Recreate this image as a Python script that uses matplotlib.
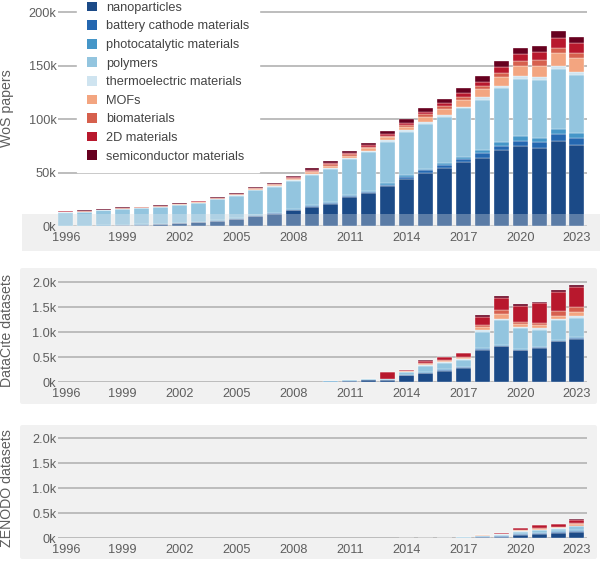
import matplotlib
matplotlib.use('Agg')
import matplotlib.pyplot as plt
import numpy as np
from matplotlib.patches import Rectangle, FancyBboxPatch, Patch
from matplotlib.ticker import FuncFormatter

plt.rcParams['font.family'] = ['Liberation Sans', 'DejaVu Sans']

years = list(range(1996, 2024))
categories = ['nanoparticles', 'battery cathode materials', 'photocatalytic materials',
              'polymers', 'thermoelectric materials', 'MOFs', 'biomaterials',
              '2D materials', 'semiconductor materials']
colors = ['#1b4a87', '#2467b0', '#4596c8', '#93c5df', '#cfe4f0',
          '#f3a580', '#d6604d', '#b8182d', '#67001f']

# ---- WoS papers (thousands) ----
wos_nano = [0.3, 0.5, 0.8, 1.2, 1.6, 2.1, 2.8, 3.8, 5.1, 7.0, 9.5, 12.0, 15.0, 18.2,
            21.4, 27.5, 30.8, 37.5, 44.0, 50.0, 55.0, 60.0, 64.2, 71.4, 75.4, 73.6, 80.0, 76.0]
wos_battery = [0.05, 0.05, 0.05, 0.1, 0.1, 0.1, 0.15, 0.15, 0.2, 0.2, 0.3, 0.4, 0.6, 0.7,
               0.8, 0.9, 1.0, 1.3, 2.0, 2.5, 2.2, 2.8, 4.7, 4.0, 4.7, 5.0, 5.9, 6.2]
wos_photo = [0.1, 0.1, 0.1, 0.15, 0.2, 0.2, 0.25, 0.3, 0.3, 0.4, 0.5, 0.6, 0.8, 0.9,
             1.0, 1.1, 1.3, 1.5, 1.6, 1.6, 1.9, 2.5, 2.5, 3.7, 4.4, 4.4, 5.0, 5.3]
wos_poly = [12.4, 12.8, 14.0, 14.9, 15.1, 15.8, 17.0, 17.7, 19.8, 21.2, 23.5, 24.2, 26.4, 28.2,
            30.8, 33.5, 36.2, 38.8, 40.5, 42.0, 43.5, 45.0, 46.7, 49.8, 53.0, 53.8, 56.0, 53.8]
wos_thermo = [0.5, 0.4, 0.3, 0.3, 0.3, 0.3, 0.3, 0.4, 0.4, 0.5, 0.5, 0.6, 0.7, 0.8,
              0.9, 1.0, 1.1, 1.2, 1.6, 1.6, 1.6, 1.6, 2.5, 2.2, 2.5, 3.1, 3.1, 3.1]
wos_mofs = [0.1, 0.1, 0.1, 0.1, 0.1, 0.1, 0.2, 0.2, 0.3, 0.4, 0.5, 0.8, 1.1, 1.6,
            1.8, 2.1, 2.4, 2.8, 3.1, 4.7, 5.6, 6.2, 7.5, 8.4, 9.6, 10.3, 12.1, 13.0]
wos_bio = [0.5, 0.5, 0.4, 0.5, 0.5, 0.5, 0.6, 0.7, 0.8, 0.9, 0.9, 1.0, 1.1, 1.3,
           1.3, 1.4, 1.5, 1.8, 2.0, 2.2, 2.8, 3.1, 3.1, 3.4, 4.4, 4.7, 4.7, 4.7]
wos_2d = [0.2, 0.2, 0.1, 0.1, 0.1, 0.1, 0.1, 0.1, 0.1, 0.1, 0.1, 0.2, 0.3, 0.9,
          1.0, 1.2, 1.3, 1.8, 2.2, 2.2, 2.5, 3.7, 4.0, 6.2, 6.8, 7.5, 8.7, 8.7]
wos_semi = [0.6, 0.5, 0.4, 0.5, 0.5, 0.6, 0.6, 0.7, 0.8, 0.9, 0.9, 1.2, 1.4, 1.7,
            1.8, 1.9, 2.0, 2.6, 3.0, 3.4, 4.0, 4.0, 5.3, 5.6, 5.6, 6.2, 6.8, 6.2]

# ---- DataCite datasets (counts), 1996-2009 are zero ----
z14 = [0] * 14
dc_nano = z14 + [15, 35, 40, 50, 140, 190, 230, 290, 650, 720, 640, 690, 820, 870]
dc_battery = z14 + [0, 0, 0, 3, 5, 5, 8, 10, 15, 15, 15, 10, 15, 15]
dc_photo = z14 + [2, 0, 0, 0, 8, 8, 20, 10, 15, 15, 15, 10, 15, 15]
dc_poly = z14 + [10, 5, 30, 13, 50, 120, 130, 140, 320, 490, 410, 330, 390, 380]
dc_thermo = z14 + [0, 0, 3, 0, 8, 20, 20, 20, 50, 30, 30, 50, 30, 50]
dc_mofs = z14 + [0, 0, 0, 0, 8, 27, 20, 20, 50, 90, 50, 50, 60, 80]
dc_bio = z14 + [0, 0, 0, 0, 5, 20, 20, 20, 40, 80, 50, 50, 90, 90]
dc_2d = z14 + [0, 0, 0, 140, 28, 45, 55, 75, 170, 250, 320, 390, 390, 410]
dc_semi = z14 + [0, 0, 0, 4, 3, 5, 5, 10, 30, 30, 30, 30, 30, 40]

# ---- ZENODO datasets (counts), 1996-2013 are zero ----
z18 = [0] * 18
zn_nano = z18 + [2, 3, 8, 12, 30, 35, 70, 90, 110, 130]
zn_battery = z18 + [0, 0, 0, 2, 4, 6, 10, 12, 12, 20]
zn_photo = z18 + [0, 0, 0, 1, 4, 6, 10, 12, 15, 25]
zn_poly = z18 + [1, 2, 4, 8, 12, 25, 45, 50, 50, 65]
zn_thermo = z18 + [0, 0, 1, 2, 4, 6, 10, 12, 12, 15]
zn_mofs = z18 + [0, 0, 0, 0, 3, 8, 15, 20, 20, 35]
zn_bio = z18 + [0, 0, 0, 0, 2, 5, 10, 12, 12, 15]
zn_2d = z18 + [0, 0, 0, 0, 3, 15, 35, 50, 50, 70]
zn_semi = z18 + [0, 0, 0, 0, 2, 4, 10, 10, 10, 15]

wos = [wos_nano, wos_battery, wos_photo, wos_poly, wos_thermo, wos_mofs, wos_bio, wos_2d, wos_semi]
dc = [dc_nano, dc_battery, dc_photo, dc_poly, dc_thermo, dc_mofs, dc_bio, dc_2d, dc_semi]
zn = [zn_nano, zn_battery, zn_photo, zn_poly, zn_thermo, zn_mofs, zn_bio, zn_2d, zn_semi]

xticks = list(range(1996, 2024, 3))
wos_yticks = [0, 50, 100, 150, 200]
ds_yticks = [0, 500, 1000, 1500, 2000]

W, H = 600, 561
fig = plt.figure(figsize=(W / 100, H / 100), dpi=100)
fig.patch.set_facecolor('white')

GRAY = '#f1f1f1'
TXT = '#5e5e5e'
GRID = '#b8b8b8'
FS = 9.2

# gray background panels
for (y0, y1) in [(268, 404), (425, 559)]:
    fig.patches.append(FancyBboxPatch((20 / W, 1 - y1 / H), 577 / W, (y1 - y0) / H,
                                      boxstyle='round,pad=0,rounding_size=0.004',
                                      transform=fig.transFigure, facecolor=GRAY,
                                      edgecolor='none', zorder=-5))
# band under top panel
fig.patches.append(Rectangle((22 / W, 1 - 251 / H), 578 / W, 37 / H,
                             transform=fig.transFigure, facecolor=GRAY,
                             edgecolor='none', zorder=-5))

left, width = 58 / W, 529 / W
ax_top = fig.add_axes([left, (H - 226.5) / H, width, 219.7 / H])
ax_mid = fig.add_axes([left, (H - 382.3) / H, width, 105 / H])
ax_bot = fig.add_axes([left, (H - 538.3) / H, width, 105 / H])

yrs = np.array(years)


def draw(ax, data, yticks, ylim, fmt, ylabel, label_y):
    bottom = np.zeros(len(years))
    for vals, c, name in zip(data, colors, categories):
        v = np.array(vals, dtype=float)
        m = v > 0
        ax.bar(yrs[m], v[m], bottom=bottom[m], width=0.79, color=c,
               edgecolor=(1, 1, 1, 0.8), linewidth=0.3, label=name, zorder=1)
        bottom += v
    for t in yticks:
        ax.axhline(t, color=GRID, lw=1.3, zorder=0.2)
    ax.set_facecolor('none')
    for s in ax.spines.values():
        s.set_visible(False)
    ax.set_xlim(1995.58, 2023.53)
    ax.set_ylim(*ylim)
    ax.set_xticks(xticks)
    ax.set_yticks(yticks)
    ax.yaxis.set_major_formatter(FuncFormatter(fmt))
    ax.tick_params(axis='both', length=0, labelsize=FS, colors=TXT)
    ax.tick_params(axis='y', pad=1)
    ax.tick_params(axis='x', pad=4)
    ax.set_ylabel(ylabel, fontsize=10.2, color=TXT)
    ax.yaxis.set_label_coords(-44 / 529, label_y)


draw(ax_top, wos, wos_yticks, (0, 205), lambda v, p: f'{int(v)}k', 'WoS papers', 0.54)
draw(ax_mid, dc, ds_yticks, (0, 2100),
     lambda v, p: '0k' if v == 0 else f'{v / 1000:.1f}k', 'DataCite datasets', 0.49)
draw(ax_bot, zn, ds_yticks, (0, 2100),
     lambda v, p: '0k' if v == 0 else f'{v / 1000:.1f}k', 'ZENODO datasets', 0.48)

# translucent overlay over the lower part of the top panel
ax_top.add_patch(Rectangle((22 / W, 1 - 251 / H), 578 / W, 37 / H,
                           transform=fig.transFigure, facecolor='#f0f0f0', alpha=0.3,
                           edgecolor='none', zorder=1.5, clip_on=False))

handles = [Patch(facecolor=c, edgecolor='none') for c in colors]
leg = ax_top.legend(handles, categories, loc='upper left',
                    bbox_to_anchor=(77 / W, 1 + 8 / H), bbox_transform=fig.transFigure,
                    borderaxespad=0, borderpad=0.75, fontsize=FS, labelspacing=0.49,
                    handlelength=0.8, handleheight=0.8, handletextpad=0.7,
                    frameon=True, fancybox=False, facecolor='white', edgecolor='white',
                    framealpha=1, labelcolor='#444444')
leg.set_zorder(5)

fig.savefig('out.png', dpi=100, facecolor='white')
